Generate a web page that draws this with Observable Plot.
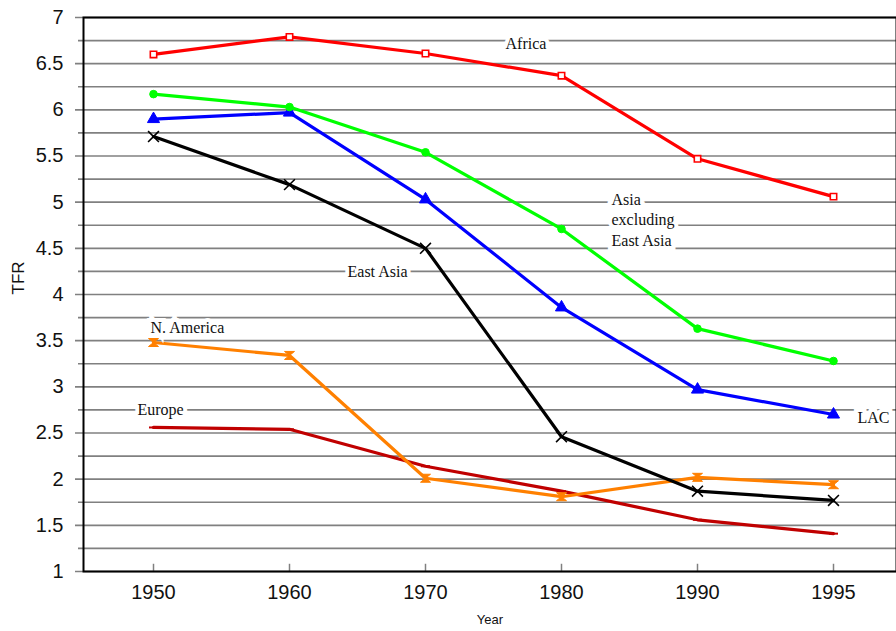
<!DOCTYPE html>
<html><head><meta charset="utf-8">
<script src="https://cdn.jsdelivr.net/npm/d3@7"></script>
<script src="https://cdn.jsdelivr.net/npm/@observablehq/plot@0.6"></script>
<style>body{margin:0;background:#fff;}</style>
</head><body><div id="chart"></div>
<script>
// ---- data ----
const years = ["1950", "1960", "1970", "1980", "1990", "1995"];
const africa    = [6.60, 6.79, 6.61, 6.37, 5.47, 5.06];
const asiaExEA  = [6.17, 6.03, 5.54, 4.71, 3.63, 3.28];
const lac       = [5.90, 5.97, 5.03, 3.86, 2.97, 2.70];
const eastAsia  = [5.71, 5.19, 4.50, 2.46, 1.87, 1.77];
const nAmerica  = [3.48, 3.34, 2.01, 1.81, 2.02, 1.94];
const europe    = [2.56, 2.54, 2.14, 1.87, 1.56, 1.41];
const yTicks = [1, 1.5, 2, 2.5, 3, 3.5, 4, 4.5, 5, 5.5, 6, 6.5, 7];
const yMinor = [1.25, 1.75, 2.25, 2.75, 3.25, 3.75, 4.25, 4.75, 5.25, 5.75, 6.25, 6.75];

// label annotations (anchored to a year and a TFR value)
const labels = [
  {text: "Africa", year: "1980", v: 6.73, dx: -56, anchor: "start"},
  {text: "Asia\nexcluding\nEast Asia", year: "1980", v: 4.82, dx: 50, anchor: "start"},
  {text: "East Asia", year: "1970", v: 4.26, dx: -48, anchor: "middle"},
  {text: "N. America", year: "1950", v: 3.65, dx: -3, anchor: "start"},
  {text: "Europe", year: "1950", v: 2.77, dx: 7, anchor: "middle"},
  {text: "LAC", year: "1995", v: 2.68, dx: 24, anchor: "start"}
];

// custom symbols
const hourglass = {draw(ctx, size) {
  const r = Math.sqrt(size / Math.PI);
  ctx.moveTo(-r, -r * 0.8); ctx.lineTo(r, -r * 0.8); ctx.lineTo(-r, r * 0.8); ctx.lineTo(r, r * 0.8); ctx.closePath();
}};
const dash = {draw(ctx, size) {
  const r = Math.sqrt(size / Math.PI);
  ctx.moveTo(-r, 0); ctx.lineTo(r, 0);
}};

const series = [
  {name: "Europe", values: europe, color: "#C00000", symbol: dash, fill: "none", r: 4.5, sw: 2},
  {name: "N. America", values: nAmerica, color: "#FF8000", symbol: hourglass, fill: "#FF8000", r: 5, sw: 1},
  {name: "East Asia", values: eastAsia, color: "#000000", symbol: "times", fill: "none", r: 5, sw: 1.6},
  {name: "LAC", values: lac, color: "#0000FF", symbol: "triangle", fill: "#0000FF", r: 4.5, sw: 1},
  {name: "Asia excluding East Asia", values: asiaExEA, color: "#00FF00", symbol: "circle", fill: "#00FF00", r: 3.8, sw: 1},
  {name: "Africa", values: africa, color: "#FF0000", symbol: "square", fill: "white", r: 3.6, sw: 1.6}
];
const rows = series.flatMap(s => s.values.map((v, i) => ({series: s.name, year: years[i], v})));

const marks = [
  Plot.ruleY(yMinor, {stroke: "#808080", strokeWidth: 1.6, insetLeft: -5}),
  Plot.ruleY(yTicks, {stroke: "#808080", strokeWidth: 1.6, insetLeft: -8}),
  Plot.ruleX(years, {x: d => d, y1: 1, y2: 1.1, stroke: "#808080", strokeWidth: 1.5, insetBottom: -2}),
  Plot.frame({stroke: "black", strokeWidth: 2})
];
for (const s of series) {
  const d = rows.filter(r => r.series === s.name);
  marks.push(Plot.line(d, {x: "year", y: "v", stroke: s.color, strokeWidth: 3.2}));
}
for (const s of series) {
  const d = rows.filter(r => r.series === s.name);
  marks.push(Plot.dot(d, {x: "year", y: "v", symbol: () => s.symbol, r: s.r, fill: s.fill,
    stroke: s.color, strokeWidth: s.sw}));
}
for (const l of labels) {
  marks.push(Plot.text([l], {x: "year", y: "v", text: "text", dx: l.dx, textAnchor: l.anchor,
    fontFamily: "Liberation Serif, Times New Roman, serif", fontSize: 16, lineHeight: 1.3,
    fill: "#111", stroke: "white", strokeWidth: 8, paintOrder: "stroke", strokeLinejoin: "miter"}));
}
marks.push(
  Plot.axisY(yTicks, {tickSize: 0, tickPadding: 20, fontSize: 20, label: null, fill: "#111", tickFormat: d => String(d)}),
  Plot.axisX({tickSize: 0, tickPadding: 13, fontSize: 20, label: null, fill: "#111"}),
  Plot.text(["Year"], {frameAnchor: "bottom", dy: 52, fontSize: 13, fill: "#111"}),
  Plot.text(["TFR"], {frameAnchor: "left", dx: -65, rotate: -90, fontSize: 17, fill: "#111"})
);

const chart = Plot.plot({
  width: 896, height: 631,
  marginLeft: 83, marginTop: 17, marginBottom: 60, marginRight: 0,
  style: {fontFamily: "Liberation Sans, Arial, sans-serif", background: "white", overflow: "visible"},
  x: {type: "band", domain: years, range: [83, 902], padding: 0},
  y: {domain: [1, 7], range: [571, 17]},
  symbol: {type: "identity"},
  marks
});
document.getElementById("chart").appendChild(chart);
</script>
</body></html>
